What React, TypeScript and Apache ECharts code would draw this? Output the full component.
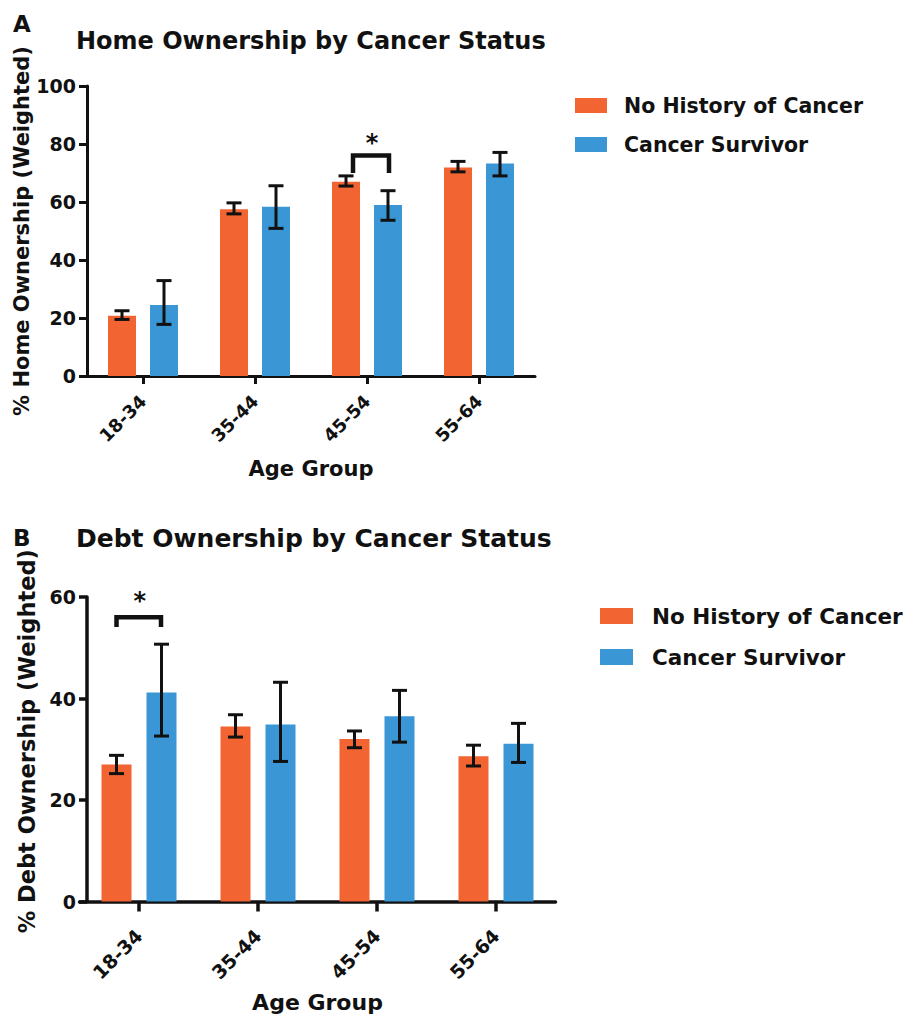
import React, { useEffect, useRef } from "react";
import * as echarts from "echarts";

const categories = ["18-34", "35-44", "45-54", "55-64"];
const seriesNames = ["No History of Cancer", "Cancer Survivor"];

// Panel A: Home ownership (%)
const homeNo = [20.8, 57.5, 67.0, 71.9];
const homeNoLow = [19.5, 55.9, 65.5, 70.4];
const homeNoHigh = [22.5, 59.7, 69.0, 74.0];
const homeSurv = [24.5, 58.4, 59.0, 73.3];
const homeSurvLow = [17.8, 50.9, 53.7, 69.0];
const homeSurvHigh = [32.9, 65.6, 63.9, 77.1];
const homeTicks = [0, 100, 20]; // min, max, interval

// Panel B: Debt ownership (%)
const debtNo = [27.0, 34.5, 32.0, 28.6];
const debtNoLow = [25.2, 32.4, 30.3, 26.7];
const debtNoHigh = [28.8, 36.8, 33.6, 30.8];
const debtSurv = [41.2, 34.9, 36.5, 31.1];
const debtSurvLow = [32.6, 27.6, 31.4, 27.4];
const debtSurvHigh = [50.7, 43.2, 41.6, 35.1];
const debtTicks = [0, 60, 20];

// Significance brackets: category index, bracket top value, leg bottom value
const homeSigCat = [2];
const homeSigTop = [76.0];
const homeSigLeg = [70.0];
const debtSigCat = [0];
const debtSigTop = [56.0];
const debtSigLeg = [54.1];

const ORANGE = "#F26432";
const BLUE = "#3A96D5";
const FONT = "DejaVu Sans";

function errData(low: number[], high: number[]) {
  return low.map((l, i) => [i, l, high[i]]);
}

function errSeries(idx: number, low: number[], high: number[], off: number, cap: number) {
  return {
    type: "custom",
    xAxisIndex: idx,
    yAxisIndex: idx,
    z: 5,
    silent: true,
    encode: { x: 0, y: [1, 2] },
    data: errData(low, high),
    renderItem: (params: any, api: any) => {
      const c = api.value(0);
      const x = api.coord([c, 0])[0] + off;
      const yl = api.coord([c, api.value(1)])[1];
      const yh = api.coord([c, api.value(2)])[1];
      const st = { stroke: "#111", lineWidth: 3 };
      return {
        type: "group",
        children: [
          { type: "line", shape: { x1: x, y1: yl, x2: x, y2: yh }, style: st },
          { type: "line", shape: { x1: x - cap / 2, y1: yl, x2: x + cap / 2, y2: yl }, style: st },
          { type: "line", shape: { x1: x - cap / 2, y1: yh, x2: x + cap / 2, y2: yh }, style: st },
        ],
      };
    },
  };
}

function sigSeries(idx: number, cats: number[], tops: number[], legs: number[], lOff: number, rOff: number, starLift: number) {
  return {
    type: "custom",
    xAxisIndex: idx,
    yAxisIndex: idx,
    z: 6,
    silent: true,
    clip: false,
    encode: { x: 0, y: [1, 2] },
    data: cats.map((c, i) => [c, tops[i], legs[i]]),
    renderItem: (params: any, api: any) => {
      const c = api.value(0);
      const xc = api.coord([c, 0])[0];
      const yt = api.coord([c, api.value(1)])[1];
      const yl = api.coord([c, api.value(2)])[1];
      const xl = xc + lOff;
      const xr = xc + rOff;
      return {
        type: "group",
        children: [
          {
            type: "polyline",
            shape: { points: [[xl, yl], [xl, yt], [xr, yt], [xr, yl]] },
            style: { stroke: "#111", lineWidth: 4.5, fill: "none", lineJoin: "miter" },
          },
          {
            type: "text",
            style: {
              text: "*",
              x: (xl + xr) / 2 + 1,
              y: yt - starLift,
              fontSize: 24,
              fontWeight: "bold",
              fontFamily: FONT,
              fill: "#111",
              align: "center",
              verticalAlign: "middle",
            },
          },
        ],
      };
    },
  };
}

function xAxisCfg(idx: number, margin: number, labelSize: number, nameGap: number, nameSize: number, tickLen: number, lw: number) {
  return {
    type: "category",
    gridIndex: idx,
    data: categories,
    axisLine: { show: true, lineStyle: { color: "#111", width: lw } },
    axisTick: { show: true, alignWithLabel: true, length: tickLen, lineStyle: { color: "#111", width: lw } },
    axisLabel: {
      rotate: 45,
      interval: 0,
      margin,
      fontSize: labelSize,
      fontWeight: "bold",
      fontFamily: FONT,
      color: "#111",
    },
    splitLine: { show: false },
    name: "Age Group",
    nameLocation: "middle",
    nameGap,
    nameTextStyle: { fontSize: nameSize, fontWeight: "bold", fontFamily: FONT, color: "#111" },
  };
}

function yAxisCfg(idx: number, ticks: number[], name: string, nameGap: number, nameSize: number, offset: number, lw: number, pad: number[]) {
  return {
    type: "value",
    gridIndex: idx,
    min: ticks[0],
    max: ticks[1],
    interval: ticks[2],
    offset,
    axisLine: { show: true, onZero: false, lineStyle: { color: "#111", width: lw } },
    axisTick: { show: true, length: 8, lineStyle: { color: "#111", width: lw } },
    axisLabel: { margin: 11, fontSize: 19, fontWeight: "bold", fontFamily: FONT, color: "#111" },
    splitLine: { show: false },
    name,
    nameLocation: "middle",
    nameGap,
    nameTextStyle: { fontSize: nameSize, fontWeight: "bold", fontFamily: FONT, color: "#111", padding: pad },
  };
}

function legendGraphics(x: number, tx: number, ys: number[], tys: number[], w: number, h: number, size: number) {
  const colors = [ORANGE, BLUE];
  const out: any[] = [];
  seriesNames.forEach((n, i) => {
    out.push({ type: "rect", shape: { x, y: ys[i], width: w, height: h }, style: { fill: colors[i] } });
    out.push({
      type: "text",
      style: { text: n, x: tx, y: tys[i], fontSize: size, fontWeight: "bold", fontFamily: FONT, fill: "#111", verticalAlign: "middle" },
    });
  });
  return out;
}

function textG(text: string, x: number, y: number, size: number) {
  return {
    type: "text",
    style: { text, x, y, fontSize: size, fontWeight: "bold", fontFamily: FONT, fill: "#111", verticalAlign: "middle" },
  };
}

export default function App() {
  const ref = useRef<HTMLDivElement>(null);
  useEffect(() => {
    if (!ref.current) return;
    const chart = echarts.init(ref.current, undefined, { renderer: "svg" });
    const option: any = {
      animation: false,
      backgroundColor: "#fff",
      textStyle: { fontFamily: FONT },
      grid: [
        { left: 87, top: 86, width: 448, height: 290, containLabel: false },
        { left: 79.5, top: 597, width: 476, height: 304.5, containLabel: false },
      ],
      xAxis: [xAxisCfg(0, 22, 18, 82, 21, 8, 3), xAxisCfg(1, 31, 19, 90, 22, 10, 3.5)],
      yAxis: [
        yAxisCfg(0, homeTicks, "% Home Ownership (Weighted)", 43, 21, 0, 3, [0, 0, 0, 0]),
        yAxisCfg(1, debtTicks, "% Debt Ownership (Weighted)", 43, 22.5, -7.5, 3.5, [0, 0, 0, 16]),
      ],
      series: [
        { name: seriesNames[0], type: "bar", xAxisIndex: 0, yAxisIndex: 0, data: homeNo, barWidth: 28, barGap: "50%", itemStyle: { color: ORANGE } },
        { name: seriesNames[1], type: "bar", xAxisIndex: 0, yAxisIndex: 0, data: homeSurv, barWidth: 28, barGap: "50%", itemStyle: { color: BLUE } },
        { name: seriesNames[0], type: "bar", xAxisIndex: 1, yAxisIndex: 1, data: debtNo, barWidth: 30, barGap: "50%", itemStyle: { color: ORANGE } },
        { name: seriesNames[1], type: "bar", xAxisIndex: 1, yAxisIndex: 1, data: debtSurv, barWidth: 30, barGap: "50%", itemStyle: { color: BLUE } },
        errSeries(0, homeNoLow, homeNoHigh, -21, 15),
        errSeries(0, homeSurvLow, homeSurvHigh, 21, 15),
        errSeries(1, debtNoLow, debtNoHigh, -22.5, 15),
        errSeries(1, debtSurvLow, debtSurvHigh, 22.5, 15),
        sigSeries(0, homeSigCat, homeSigTop, homeSigLeg, -14, 22, 12.5),
        sigSeries(1, debtSigCat, debtSigTop, debtSigLeg, -22.5, 22, 16.5),
      ],
      graphic: [
        textG("A", 13, 23.5, 23),
        textG("Home Ownership by Cancer Status", 76, 41, 24),
        textG("B", 13, 537.5, 23),
        textG("Debt Ownership by Cancer Status", 76, 538.5, 25),
        ...legendGraphics(575, 624, [98, 137], [106, 145], 32, 15, 20.5),
        ...legendGraphics(600, 652, [608, 649], [616, 657], 33, 16, 21.5),
      ],
    };
    chart.setOption(option);
    return () => chart.dispose();
  }, []);
  return <div ref={ref} style={{ position: "absolute", left: 0, top: 0, width: 908, height: 1017 }} />;
}
